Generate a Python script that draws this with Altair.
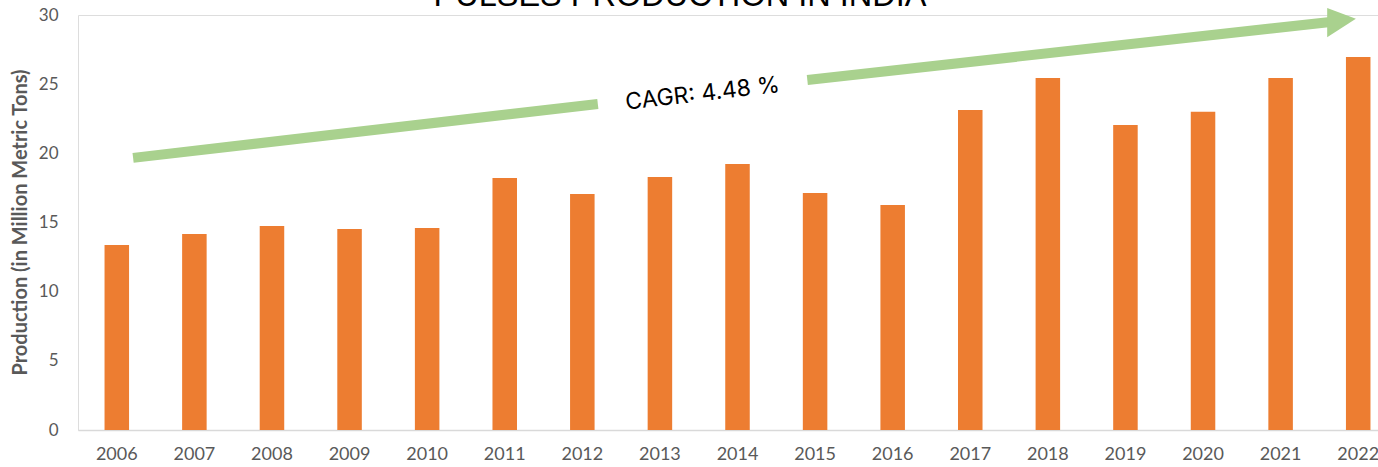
import altair as alt
import pandas as pd

years = ["2006", "2007", "2008", "2009", "2010", "2011", "2012", "2013", "2014",
         "2015", "2016", "2017", "2018", "2019", "2020", "2021", "2022"]
production = [13.38, 14.17, 14.75, 14.53, 14.60, 18.22, 17.06, 18.29, 19.23,
              17.14, 16.27, 23.13, 25.45, 22.05, 23.00, 25.45, 26.97]

# Arrow annotation (x in category-index units, y in million metric tons)
arrow_seg = ["a", "a", "b", "b"]
arrow_pos = [0.21, 6.20, 8.90, 15.64]
arrow_val = [19.67, 23.57, 25.30, 29.50]
head_pos = [15.60, 15.97]
head_lo = [28.40, 29.72]
head_hi = [30.50, 29.72]
cagr_label = ["CAGR: 4.48 %"]
cagr_pos = [7.55]
cagr_val = [24.30]
title_text = ["PULSES PRODUCTION IN INDIA"]

bars_df = pd.DataFrame({"Year": years, "Production": production})
arrow_df = pd.DataFrame({"seg": arrow_seg, "pos": arrow_pos, "val": arrow_val})
head_df = pd.DataFrame({"pos": head_pos, "lo": head_lo, "hi": head_hi})
cagr_df = pd.DataFrame({"label": cagr_label, "pos": cagr_pos, "val": cagr_val})
title_df = pd.DataFrame({"t": title_text})

W = 1300
RANGE = [0, 1319]
yscale = alt.Scale(domain=[0, 30], nice=False, zero=True)
qx = alt.Scale(domain=[-0.5, 16.5], range=RANGE, nice=False, zero=False)

bars = alt.Chart(bars_df).mark_bar(color="#ED7D31").encode(
    x=alt.X("Year:N", sort=years, title=None,
            scale=alt.Scale(range=RANGE, paddingInner=0.684, paddingOuter=0.342),
            axis=alt.Axis(labelAngle=0, ticks=False, domainColor="#d9d9d9",
                          domainWidth=1.5, labelColor="#595959", labelFont="Lato",
                          labelFontSize=18, labelPadding=15)),
    y=alt.Y("Production:Q", scale=yscale,
            title="Production (in Million Metric Tons)",
            axis=alt.Axis(values=[0, 5, 10, 15, 20, 25, 30], domain=False, ticks=False,
                          grid=False, labelColor="#595959", labelFont="Lato",
                          labelFontSize=17, labelPadding=20,
                          titleFont="Lato", titleFontSize=20, titleFontWeight="bold",
                          titleColor="#595959", titleX=-58, titleY=207,
                          titleAngle=270, titleAlign="center", titleBaseline="middle")),
)

arrow = alt.Chart(arrow_df).mark_line(color="#A9D18E", strokeWidth=10, strokeCap="butt").encode(
    x=alt.X("pos:Q", scale=qx, axis=None),
    y=alt.Y("val:Q", scale=yscale),
    detail="seg:N",
)

head = alt.Chart(head_df).mark_area(color="#A9D18E", orient="vertical").encode(
    x=alt.X("pos:Q", scale=qx, axis=None),
    y=alt.Y("lo:Q", scale=yscale),
    y2="hi:Q",
)

cagr = alt.Chart(cagr_df).mark_text(font="Inter", fontSize=23, color="#000000",
                                    angle=353.4, align="center", baseline="middle").encode(
    x=alt.X("pos:Q", scale=qx, axis=None),
    y=alt.Y("val:Q", scale=yscale),
    text="label:N",
)

title = alt.Chart(title_df).mark_text(font="Liberation Sans", fontSize=32.5, color="#000000",
                                      align="center", baseline="alphabetic").encode(
    x=alt.value(602), y=alt.value(-9), text="t:N",
)

chart = alt.layer(bars, arrow, head, cagr, title).resolve_scale(x="independent").properties(
    width=W, height=415,
    autosize=alt.AutoSizeParams(type="none"),
    padding={"left": 78, "top": 15, "right": 0, "bottom": 37},
).configure_view(stroke=None).configure(background="white")

chart.save("out.html", embed_options={"renderer": "svg", "actions": False})
